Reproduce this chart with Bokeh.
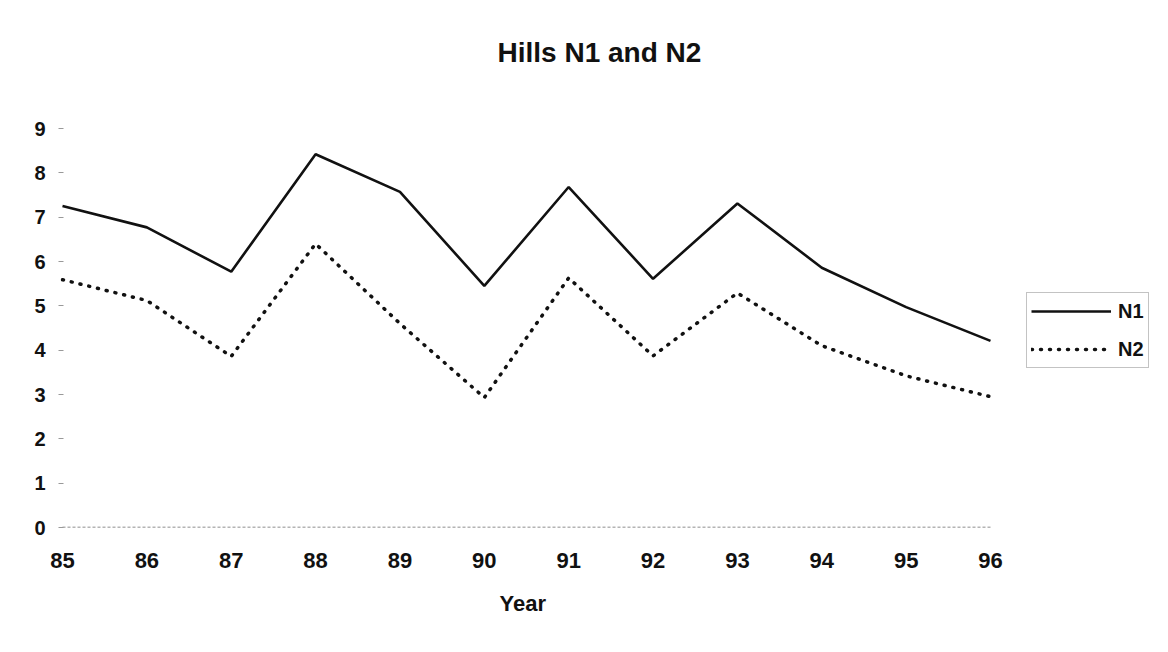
from bokeh.plotting import figure
from bokeh.models import Range1d, FixedTicker, Legend, LegendItem, Title
from bokeh.embed import file_html
from bokeh.resources import INLINE

years = [85, 86, 87, 88, 89, 90, 91, 92, 93, 94, 95, 96]
n1 = [7.25, 6.77, 5.77, 8.42, 7.57, 5.45, 7.68, 5.61, 7.31, 5.86, 4.97, 4.21]
n2 = [5.59, 5.12, 3.86, 6.40, 4.60, 2.93, 5.63, 3.87, 5.29, 4.10, 3.42, 2.95]
y_ticks = [0, 1, 2, 3, 4, 5, 6, 7, 8, 9]
title_text = "Hills N1 and N2"
x_title = "Year"

FONT = "Liberation Sans"
PX_YEAR = 84.36
PX_UNIT = 44.33

p = figure(width=1152, height=636,
           x_range=Range1d(years[0] - 2 / PX_YEAR, years[-1] + 162 / PX_YEAR),
           y_range=Range1d(0, 9 + 40 / PX_UNIT),
           min_border_left=60, min_border_right=0, min_border_top=88, min_border_bottom=109,
           output_backend="svg", toolbar_location=None, title=None)

p.background_fill_color = "white"
p.border_fill_color = "white"
p.outline_line_color = None
p.xgrid.grid_line_color = None
p.ygrid.grid_line_color = None

t = Title(text=title_text, text_font=FONT, text_font_style="bold", text_font_size="28px",
          align="left", text_color="#111111", offset=437, standoff=42)
p.add_layout(t, "above")

# baseline at zero
p.segment(x0=[years[0]], y0=[0], x1=[years[-1]], y1=[0], line_color="#444444",
          line_width=1.5, line_dash="3 2", line_alpha=0.8)

r1 = p.line(years, n1, line_color="#111111", line_width=2.6)
r2 = p.line(years, n2, line_color="#111111", line_width=3.5, line_dash="1 8", line_cap="round")

p.xaxis.ticker = FixedTicker(ticks=years)
p.xaxis.axis_line_color = None
p.xaxis.major_tick_line_color = None
p.xaxis.minor_tick_line_color = None
p.xaxis.major_label_text_font = FONT
p.xaxis.major_label_text_font_style = "bold"
p.xaxis.major_label_text_font_size = "22px"
p.xaxis.major_label_text_color = "#111111"
p.xaxis.major_label_standoff = 19

# x-axis title, centred under the 85..96 span
xt = Title(text=x_title, text_font=FONT, text_font_style="bold", text_font_size="22px",
           align="left", text_color="#111111", offset=439, standoff=36)
p.add_layout(xt, "below")

p.yaxis.ticker = FixedTicker(ticks=y_ticks)
p.yaxis.axis_line_color = None
p.yaxis.major_tick_line_color = "#999999"
p.yaxis.major_tick_in = 3
p.yaxis.major_tick_out = 2
p.yaxis.minor_tick_line_color = None
p.yaxis.major_label_text_font = FONT
p.yaxis.major_label_text_font_style = "bold"
p.yaxis.major_label_text_font_size = "20px"
p.yaxis.major_label_text_color = "#111111"
p.yaxis.major_label_standoff = 13

legend = Legend(items=[LegendItem(label="N1", renderers=[r1]),
                       LegendItem(label="N2", renderers=[r2])],
                location=(966, 159), orientation="vertical",
                glyph_width=80, glyph_height=28, label_height=28,
                spacing=10, padding=4, margin=0, label_standoff=7,
                label_text_font=FONT, label_text_font_style="bold",
                label_text_font_size="20px", label_text_color="#111111",
                border_line_color="#888888", border_line_width=1,
                background_fill_color="white", background_fill_alpha=1.0)
p.add_layout(legend, "center")

open("out.html", "w").write(file_html(p, INLINE))
